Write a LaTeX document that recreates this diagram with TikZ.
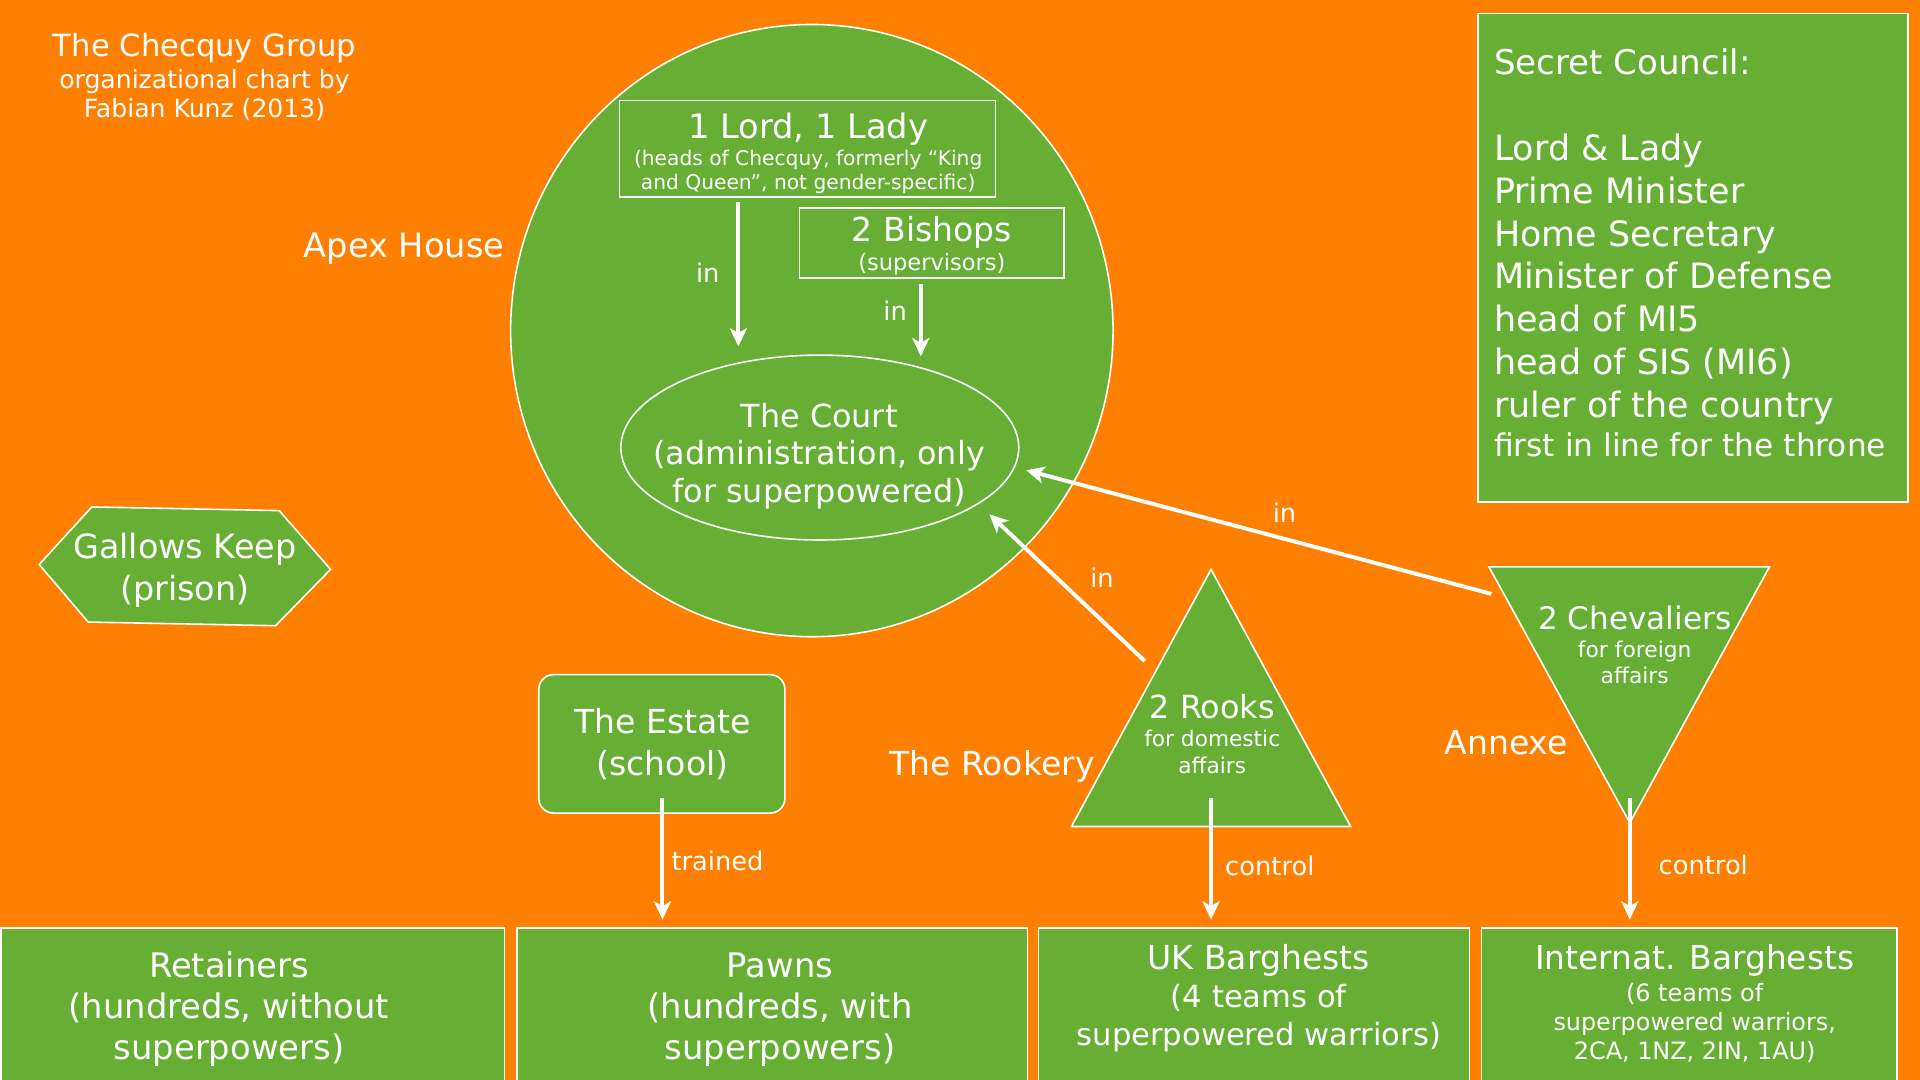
\documentclass[tikz,border=0pt]{standalone}
\usepackage{fontspec}
\setmainfont{DejaVu Sans}
\usetikzlibrary{shapes.geometric,arrows.meta}
\definecolor{bgorange}{RGB}{255,128,0}
\definecolor{leaf}{RGB}{103,175,52}
\newcommand{\fsz}[2]{\fontsize{#1}{#2}\selectfont}
\begin{document}
\begin{tikzpicture}[x=1pt,y=-1pt,
  box/.style={draw=white, line width=1.3pt, fill=leaf, inner sep=0pt, outer sep=0pt},
  txt/.style={text=white, inner sep=0pt, align=center, anchor=base},
  conn/.style={draw=white, line width=3.2pt, -{Stealth[length=15pt,width=14pt,inset=4pt]}},
  lbl/.style={text=white, font=\fsz{21}{21}, inner sep=0pt, anchor=base}]
\fill[bgorange] (0,0) rectangle (1568,882);
\useasboundingbox (0,0) rectangle (1568,882);

% ---------- shapes ----------
\node[box, ellipse, minimum width=492pt, minimum height=500pt] (apex) at (663,270) {};
\node[box, rectangle, minimum width=307pt, minimum height=79pt] (lord) at (659.5,121.5) {};
\node[box, rectangle, minimum width=216pt, minimum height=57pt] (bishops) at (761,198.5) {};
\node[box, ellipse, minimum width=325pt, minimum height=151pt] (court) at (669.5,365.5) {};
\node[box, rectangle, rounded corners=12pt, minimum width=201pt, minimum height=113pt] (estate) at (540.5,607.5) {};
\node[box, rectangle, minimum width=411pt, minimum height=140pt] (retainers) at (206.5,828) {};
\node[box, rectangle, minimum width=417pt, minimum height=140pt] (pawns) at (630.5,828) {};
\node[box, rectangle, minimum width=352pt, minimum height=140pt] (ukb) at (1024,828) {};
\node[box, rectangle, minimum width=339pt, minimum height=140pt] (intb) at (1379.5,828) {};
\node[box, rectangle, minimum width=351pt, minimum height=399pt] (council) at (1382.5,210.5) {};

% triangles and hexagon drawn as paths
\coordinate (rkA) at (989,465);
\coordinate (rkB) at (875,675);
\coordinate (rkC) at (1103,675);
\draw[box] (rkA) -- (rkB) -- (rkC) -- cycle;
\coordinate (chA) at (1216,463);
\coordinate (chB) at (1445,463);
\coordinate (chC) at (1331,672);
\draw[box] (chA) -- (chB) -- (chC) -- cycle;
\draw[box] (32,461) -- (75,414) -- (228,417) -- (270,465) -- (225,511) -- (72,508) -- cycle;

% ---------- texts ----------
\node[txt, font=\fsz{25}{25}] (t1) at (167,46) {The Checquy Group};
\node[txt, font=\fsz{20.5}{24}] (t2) at (167,96) {organizational chart by\\Fabian Kunz (2013)};

\node[txt, font=\fsz{27.5}{27.5}] (apexT) at (330,210) {Apex House};
\node[txt, font=\fsz{27.5}{27.5}] (lordT) at (660,113) {1 Lord, 1 Lady};
\node[txt, font=\fsz{16.5}{20}] (lordS) at (660,155) {(heads of Checquy, formerly “King\\and Queen”, not gender-specific)};
\node[txt, font=\fsz{27}{27}] (bishT) at (761,197) {2 Bishops};
\node[txt, font=\fsz{18.4}{18.4}] (bishS) at (761,221) {(supervisors)};
\node[txt, font=\fsz{26}{30.5}] (courtT) at (669,410) {The Court\\(administration, only\\for superpowered)};

\node[txt, font=\fsz{27.3}{34}] (gallT) at (151,490) {Gallows Keep\\(prison)};
\node[txt, font=\fsz{27}{34}] (estT) at (541,633) {The Estate\\(school)};

\node[txt, font=\fsz{27}{27}] (rookery) at (810,633) {The Rookery};
\node[txt, font=\fsz{26}{26}] (rookT) at (990,587) {2 Rooks};
\node[txt, font=\fsz{17.7}{22}] (rookS) at (990,632) {for domestic\\affairs};
\node[txt, font=\fsz{27}{27}] (annexe) at (1230,616) {Annexe};
\node[txt, font=\fsz{25.4}{25.4}] (chevT) at (1335,514) {2 Chevaliers};
\node[txt, font=\fsz{17.8}{21}] (chevS) at (1335,558) {for foreign\\affairs};

\node[txt, font=\fsz{27.6}{33.5}] (retT) at (187,865) {Retainers\\(hundreds, without\\superpowers)};
\node[txt, font=\fsz{27.6}{33.5}] (pawnT) at (637,865) {Pawns\\(hundreds, with\\superpowers)};
\node[txt, font=\fsz{27}{27}] (ukT) at (1028,792) {UK Barghests};
\node[txt, font=\fsz{25}{31}] (ukS) at (1028,854) {(4 teams of\\superpowered warriors)};
\node[txt, font=\fsz{26.8}{26.8}] (intT) at (1384,792) {Internat. Barghests};
\node[txt, font=\fsz{19.5}{23.5}] (intS) at (1384,865) {(6 teams of\\superpowered warriors,\\2CA, 1NZ, 2IN, 1AU)};

\node[txt, align=left, anchor=base west, font=\fsz{27.8}{27.8}] (scT) at (1220,61) {Secret Council:};
\node[txt, align=left, anchor=base west, font=\fsz{28.5}{35}] (scL) at (1220,341) {Lord \& Lady\\Prime Minister\\Home Secretary\\Minister of Defense\\head of MI5\\head of SIS (MI6)\\ruler of the country};
\node[txt, align=left, anchor=base west, font=\fsz{25.5}{25.5}] (scF) at (1220,373) {first in line for the throne};

% ---------- connectors ----------
\coordinate (lordOut) at (603,165);
\coordinate (courtInA) at (603,283);
\coordinate (bishOut) at (752,232);
\coordinate (courtInB) at (752,291);
\coordinate (estOut) at (541,652);
\coordinate (pawnIn) at (541,751);
\coordinate (rookOut) at (989,652);
\coordinate (ukIn) at (989,751);
\coordinate (chevOut) at (1331,652);
\coordinate (intIn) at (1331,751);
\coordinate (rookUp) at (935,540);
\coordinate (courtInC) at (808,420);
\coordinate (chevUp) at (1218,485);
\coordinate (courtInD) at (838,384);

\draw[conn] (lordOut) -- (courtInA);
\draw[conn] (bishOut) -- (courtInB);
\draw[conn] (estOut) -- (pawnIn);
\draw[conn] (rookOut) -- (ukIn);
\draw[conn] (chevOut) -- (intIn);
\draw[conn] (rookUp) -- (courtInC);
\draw[conn] (chevUp) -- (courtInD);

\node[lbl] (inA) at (578,231) {in};
\node[lbl] (inB) at (731,262) {in};
\node[lbl] (inC) at (900,480) {in};
\node[lbl] (inD) at (1049,427) {in};
\node[lbl] (trained) at (586,711) {trained};
\node[lbl] (ctrlA) at (1037,715) {control};
\node[lbl] (ctrlB) at (1391,714) {control};
\end{tikzpicture}
\end{document}
